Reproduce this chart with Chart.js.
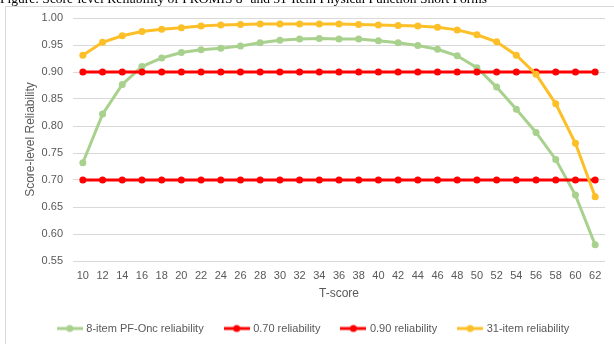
<!DOCTYPE html>
<html>
<head>
<meta charset="utf-8">
<title>Score-level Reliability</title>
<script src="https://cdn.jsdelivr.net/npm/chart.js@4.4.1/dist/chart.umd.min.js"></script>
<style>
  html, body { margin: 0; padding: 0; background: #fff; }
  #wrap { position: relative; width: 614px; height: 344px; }
</style>
</head>
<body>
<div id="wrap"><canvas id="reliabilityChart"></canvas></div>
<script>
// values
const tScores = ['10', '12', '14', '16', '18', '20', '22', '24', '26', '28', '30', '32', '34', '36',
  '38', '40', '42', '44', '46', '48', '50', '52', '54', '56', '58', '60', '62'];
const pfOnc8 = [0.732, 0.822, 0.877, 0.910, 0.926, 0.936, 0.941, 0.944, 0.948, 0.954, 0.959, 0.961, 0.962, 0.961,
  0.961, 0.958, 0.954, 0.949, 0.942, 0.930, 0.908, 0.872, 0.831, 0.788, 0.738, 0.672, 0.580];
const rel070 = [0.70, 0.70, 0.70, 0.70, 0.70, 0.70, 0.70, 0.70, 0.70, 0.70, 0.70, 0.70, 0.70, 0.70,
  0.70, 0.70, 0.70, 0.70, 0.70, 0.70, 0.70, 0.70, 0.70, 0.70, 0.70, 0.70, 0.70];
const rel090 = [0.90, 0.90, 0.90, 0.90, 0.90, 0.90, 0.90, 0.90, 0.90, 0.90, 0.90, 0.90, 0.90, 0.90,
  0.90, 0.90, 0.90, 0.90, 0.90, 0.90, 0.90, 0.90, 0.90, 0.90, 0.90, 0.90, 0.90];
const item31 = [0.931, 0.955, 0.967, 0.975, 0.979, 0.982, 0.985, 0.987, 0.988, 0.989, 0.989, 0.989, 0.989, 0.989,
  0.988, 0.987, 0.986, 0.985, 0.983, 0.978, 0.969, 0.956, 0.931, 0.896, 0.841, 0.768, 0.669];
const seriesNames = ['8-item PF-Onc reliability', '0.70 reliability', '0.90 reliability', '31-item reliability'];
const figureTitle = 'Figure: Score-level Reliability of PROMIS 8- and 31-Item Physical Function Short Forms';

const GREEN = '#a9d18e';
const RED = '#ff0000';
const ORANGE = '#fdbf28';
const TEXT = '#595959';
const FONT = '"Liberation Sans", Arial, sans-serif';

// little line + dot sample used as legend marker (like Excel's)
function legendMarker(color) {
  const c = document.createElement('canvas');
  c.width = 26; c.height = 10;
  const g = c.getContext('2d');
  g.strokeStyle = color;
  g.lineWidth = 3;
  g.beginPath(); g.moveTo(0, 5); g.lineTo(26, 5); g.stroke();
  g.fillStyle = color;
  g.beginPath(); g.arc(13, 5, 3.5, 0, Math.PI * 2); g.fill();
  return c;
}

// chart frame + the (cut off) caption above it
const framePlugin = {
  id: 'frame',
  beforeDraw(chart) {
    const c = chart.ctx;
    c.save();
    c.fillStyle = '#fff';
    c.fillRect(0, 0, chart.width, chart.height);
    c.strokeStyle = '#d9d9d9';
    c.lineWidth = 1;
    c.strokeRect(5.5, 6.5, chart.width + 10, chart.height + 10);
    c.fillStyle = '#000';
    c.font = '13.5px "Liberation Serif", "Times New Roman", serif';
    c.textBaseline = 'alphabetic';
    c.fillText(figureTitle, 0, 3);
    c.restore();
  }
};

function lineSet(label, data, color, order) {
  return {
    label: label,
    data: data,
    borderColor: color,
    backgroundColor: color,
    borderWidth: 3,
    pointRadius: 3.5,
    pointHoverRadius: 3.5,
    pointBorderWidth: 0,
    tension: 0,
    fill: false,
    order: order // later Excel series sit on top
  };
}

const ctx = document.getElementById('reliabilityChart').getContext('2d');
new Chart(ctx, {
  type: 'line',
  data: {
    labels: tScores,
    datasets: [
      lineSet(seriesNames[0], pfOnc8, GREEN, 4),
      lineSet(seriesNames[1], rel070, RED, 3),
      lineSet(seriesNames[2], rel090, RED, 2),
      lineSet(seriesNames[3], item31, ORANGE, 1)
    ]
  },
  options: {
    responsive: true,
    maintainAspectRatio: false,
    animation: false,
    layout: { padding: { top: 18, right: 9, left: 23, bottom: 0 } },
    plugins: {
      tooltip: { enabled: false },
      legend: {
        position: 'bottom',
        labels: {
          color: TEXT,
          font: { family: FONT, size: 11 },
          usePointStyle: true,
          pointStyleWidth: 22,
          padding: 22,
          generateLabels: (chart) => chart.data.datasets.map((ds, i) => ({
            text: ds.label,
            fontColor: TEXT,
            fillStyle: ds.borderColor,
            strokeStyle: ds.borderColor,
            lineWidth: 0,
            pointStyle: legendMarker(ds.borderColor),
            hidden: false,
            datasetIndex: i
          }))
        }
      }
    },
    scales: {
      x: {
        offset: true,
        grid: { display: false, drawTicks: false },
        border: { display: false },
        ticks: { color: TEXT, font: { family: FONT, size: 11 }, padding: 8, maxRotation: 0, autoSkip: false },
        title: { display: true, text: 'T-score', color: TEXT, font: { family: FONT, size: 12 }, padding: { top: 0, bottom: 0 } },
        afterFit: (scale) => { scale.height = 40; }
      },
      y: {
        min: 0.55,
        max: 1.0,
        grid: { color: '#d9d9d9', lineWidth: 1, drawTicks: false },
        border: { display: false },
        ticks: {
          stepSize: 0.05,
          color: TEXT,
          font: { family: FONT, size: 11 },
          padding: 10,
          callback: (v) => v.toFixed(2)
        },
        title: { display: true, text: 'Score-level Reliability', color: TEXT, font: { family: FONT, size: 12 }, padding: { top: 0 } },
        afterFit: (scale) => { scale.width = 50; }
      }
    }
  },
  plugins: [framePlugin]
});
</script>
</body>
</html>
